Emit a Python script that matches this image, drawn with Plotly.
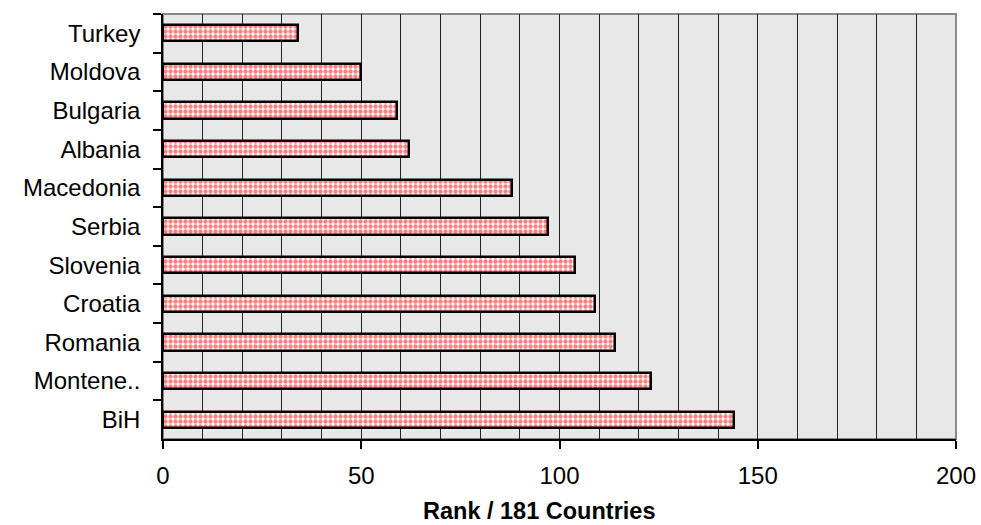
import plotly.graph_objects as go

countries = ["Turkey", "Moldova", "Bulgaria", "Albania", "Macedonia", "Serbia",
             "Slovenia", "Croatia", "Romania", "Montene..", "BiH"]
ranks = [34, 50, 59, 62, 88, 97, 104, 109, 114, 123, 144]
x_ticks = [0, 50, 100, 150, 200]
x_title = "Rank / 181 Countries"

fig = go.Figure(go.Bar(
    x=ranks, y=countries, orientation="h", width=0.42,
    marker=dict(color="white", line=dict(color="black", width=2.5),
                pattern=dict(shape=".", fgcolor="#ff0000", bgcolor="white",
                             size=5, solidity=0.6)),
))

fig.add_shape(type="rect", xref="paper", yref="paper", x0=0, x1=1, y0=0, y1=1,
              line=dict(color="#888888", width=2), layer="below")

fig.add_annotation(text="<b>" + x_title + "</b>", xref="paper", yref="paper",
                   x=0.474, y=0, xanchor="center", yanchor="bottom", yshift=-87,
                   showarrow=False, font=dict(size=23.5))

fig.update_layout(
    width=981, height=525,
    margin=dict(l=163, r=25, t=14, b=86, autoexpand=False),
    paper_bgcolor="white", plot_bgcolor="#e8e8e8",
    font=dict(family="Liberation Sans, Arial", size=24, color="black"),
    showlegend=False, bargap=0,
)
fig.update_xaxes(
    range=[0, 200], tickvals=x_ticks, ticks="outside", ticklen=8, tickwidth=1.5,
    tickcolor="black", showline=True, linecolor="black", linewidth=1.5,
    showgrid=True, gridcolor="#222222", gridwidth=1,
    minor=dict(dtick=10, showgrid=True, gridcolor="#222222", gridwidth=1, ticks=""),
    zeroline=False, automargin=False, ticklabelstandoff=6, ticklabeloverflow="allow",
)
fig.update_yaxes(
    autorange="reversed", tickson="boundaries", ticks="outside", ticklen=8,
    tickwidth=1.5, tickcolor="black", showline=True, linecolor="black", linewidth=1.5,
    showgrid=False, ticklabelstandoff=16, automargin=False,
)

fig.write_html("out.html", config={"displayModeBar": False},
               post_script="document.body.style.margin='0';")
